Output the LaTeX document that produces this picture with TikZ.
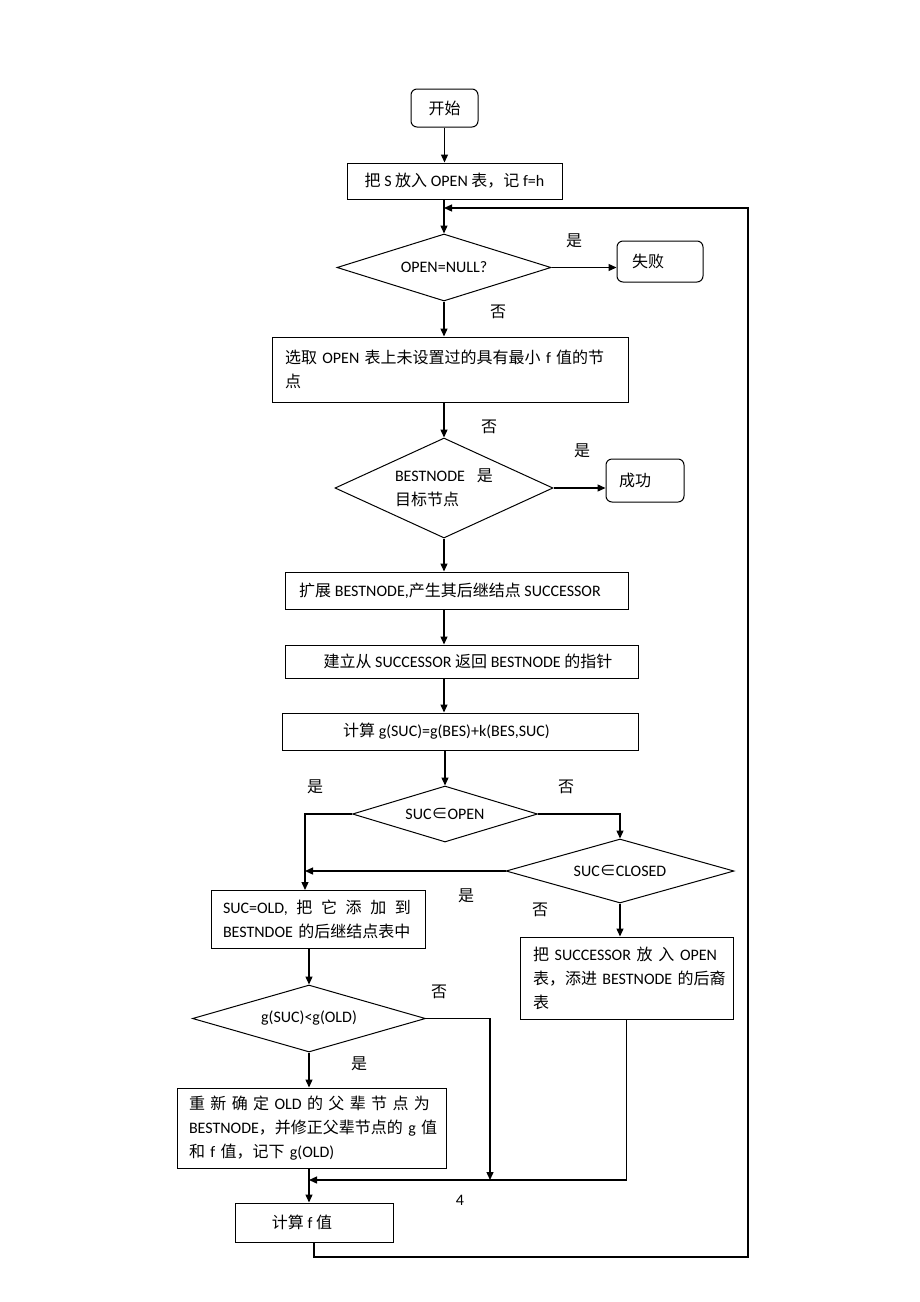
\documentclass[tikz,border=0pt]{standalone}
\usepackage{fontspec}
\setmainfont{Carlito}
\newfontfamily\cjk[Scale=1.0]{Noto Sans CJK SC}
\newcommand\zh[1]{{\cjk #1}}
\newcommand\Jline[2]{\makebox[#1][s]{#2}}
\usetikzlibrary{shapes.geometric,arrows.meta}
\begin{document}
\begin{tikzpicture}[x=1pt,y=-1pt,
  every node/.style={font=\fontsize{16}{24}\selectfont},
  box/.style={draw, line width=1pt, inner sep=0pt},
  rbox/.style={box, rounded corners=6pt},
  dia/.style={draw, diamond, line width=1pt, inner sep=0pt},
  lbl/.style={inner sep=0pt},
  arr/.style={line width=1.3pt, -{Triangle[length=8pt,width=7pt]}}]
\useasboundingbox[fill=white] (0,0) rectangle (920,1302);

% nodes
\node[rbox, minimum width=67pt, minimum height=38pt] (start) at (444.5,108) {\zh{开始}};
\node[box, minimum width=215pt, minimum height=36pt] (s1) at (454.5,181) {\zh{把} S \zh{放入} OPEN \zh{表，记} f=h};
\node[dia, aspect=3.2, minimum width=214pt, minimum height=67pt] (d1) at (444,267.5) {OPEN=NULL?};
\node[rbox, minimum height=41pt, text width=56pt, inner xsep=15pt, align=left] (fail) at (660,261.5) {\zh{失败}};
\node[box, text width=330pt, inner xsep=13pt, minimum height=65pt, align=left] (s2) at (450,369.5) {\mbox{\zh{选取} OPEN \zh{表上未设置过的具有最小} f \zh{值的节}}\\\zh{点}};
\node[dia, aspect=2.2, minimum width=218pt, minimum height=100pt, align=left] (d2) at (444,488) {BESTNODE\hspace{12pt}\zh{是}\\\zh{目标节点}};
\node[rbox, minimum height=43pt, text width=52pt, inner xsep=13pt, align=left] (succ) at (645,480.5) {\zh{成功}};
\node[box, minimum width=343pt, minimum height=37pt] (s3) at (456.5,590.5) {\zh{扩展} BESTNODE,\zh{产生其后继结点} SUCCESSOR\hspace*{13pt}};
\node[box, minimum width=353pt, minimum height=33pt] (s4) at (461.5,661.5) {\hspace*{13pt}\zh{建立从} SUCCESSOR \zh{返回} BESTNODE \zh{的指针}};
\node[box, minimum width=356pt, minimum height=37pt] (s5) at (460,731.5) {\zh{计算} g(SUC)=g(BES)+k(BES,SUC)\hspace*{27pt}};
\node[dia, aspect=3.3, minimum width=185pt, minimum height=56pt] (d3) at (445,814) {SUC\zh{∈}OPEN};
\node[dia, aspect=3.5, minimum width=228pt, minimum height=64pt] (d4) at (620,871) {SUC\zh{∈}CLOSED};
\node[box, text width=190pt, inner xsep=12pt, minimum height=58pt, align=left] (b1) at (318,919) {\Jline{188pt}{SUC=OLD,\hfill\zh{把}\hfill\zh{它}\hfill\zh{添}\hfill\zh{加}\hfill\zh{到}}\\\mbox{BESTNDOE \zh{的后继结点表中}}};
\node[box, text width=187pt, inner xsep=13pt, minimum height=82pt, align=left] (b2) at (626.5,978) {\Jline{184pt}{\zh{把}\hfill SUCCESSOR\hfill\zh{放}\hfill\zh{入}\hfill OPEN}\\\mbox{\zh{表，添进} BESTNODE \zh{的后裔}}\\\zh{表}};
\node[dia, aspect=3.5, minimum width=233pt, minimum height=67pt] (d5) at (309,1018.5) {g(SUC)<g(OLD)};
\node[box, text width=245pt, inner xsep=12pt, minimum height=80pt, align=left] (b3) at (311.5,1128) {\Jline{241pt}{\zh{重}\hfill\zh{新}\hfill\zh{确}\hfill\zh{定}\hfill OLD\hfill\zh{的}\hfill\zh{父}\hfill\zh{辈}\hfill\zh{节}\hfill\zh{点}\hfill\zh{为}}\\\mbox{BESTNODE\zh{，并修正父辈节点的} g \zh{值}}\\\mbox{\zh{和} f \zh{值，记下} g(OLD)}};
\node[box, minimum width=158pt, minimum height=39pt] (b4) at (314,1222.5) {\zh{计算} f \zh{值}\hspace*{24pt}};

% labels
\node[lbl] (y1) at (574,241) {\zh{是}};
\node[lbl] (n1) at (498,312) {\zh{否}};
\node[lbl] (n2) at (489,427) {\zh{否}};
\node[lbl] (y2) at (582,451) {\zh{是}};
\node[lbl] (y3) at (315,787) {\zh{是}};
\node[lbl] (n3) at (566,787) {\zh{否}};
\node[lbl] (y4) at (466,896) {\zh{是}};
\node[lbl] (n4) at (540,910) {\zh{否}};
\node[lbl] (n5) at (439,992) {\zh{否}};
\node[lbl] (y5) at (359,1064) {\zh{是}};
\node[lbl] (pg) at (460,1200) {4};

% junction coordinates
\coordinate (jl) at (305,890);
\coordinate (jr) at (490,1180);
\coordinate (jm) at (309,1180);
\coordinate (lp) at (748,1257);
\coordinate (entry) at (444,208);

% connectors
\draw[arr] (start.south) -- (start.south |- s1.north);
\draw[arr] (d1.north |- s1.south) -- (d1.north);
\draw[arr] (d1.east) -- (d1.east -| fail.west);
\draw[arr] (d1.south) -- (d1.south |- s2.north);
\draw[arr] (d2.north |- s2.south) -- (d2.north);
\draw[arr] (d2.east) -- (d2.east -| succ.west);
\draw[arr] (d2.south) -- (d2.south |- s3.north);
\draw[arr] (s3.south -| d2.south) -- (s4.north -| d2.south);
\draw[arr] (s4.south -| d2.south) -- (s5.north -| d2.south);
\draw[arr] (s5.south -| d3.north) -- (d3.north);
\draw[arr] (d3.west) -| (jl);
\draw[arr] (d4.west) -- (d4.west -| jl);
\draw[arr] (d3.east) -| (d4.north);
\draw[arr] (d4.south) -- (d4.south |- b2.north);
\draw[arr] (d5.north |- b1.south) -- (d5.north);
\draw[arr] (d5.east) -| (jr);
\draw[arr] (d5.south) -- (d5.south |- b3.north);
\draw[arr] (b2.south) |- (jm);
\draw[arr] (jm |- b3.south) -- (jm |- b4.north);
\draw[arr] (b4.south) |- (lp) |- (entry);
\end{tikzpicture}
\end{document}
